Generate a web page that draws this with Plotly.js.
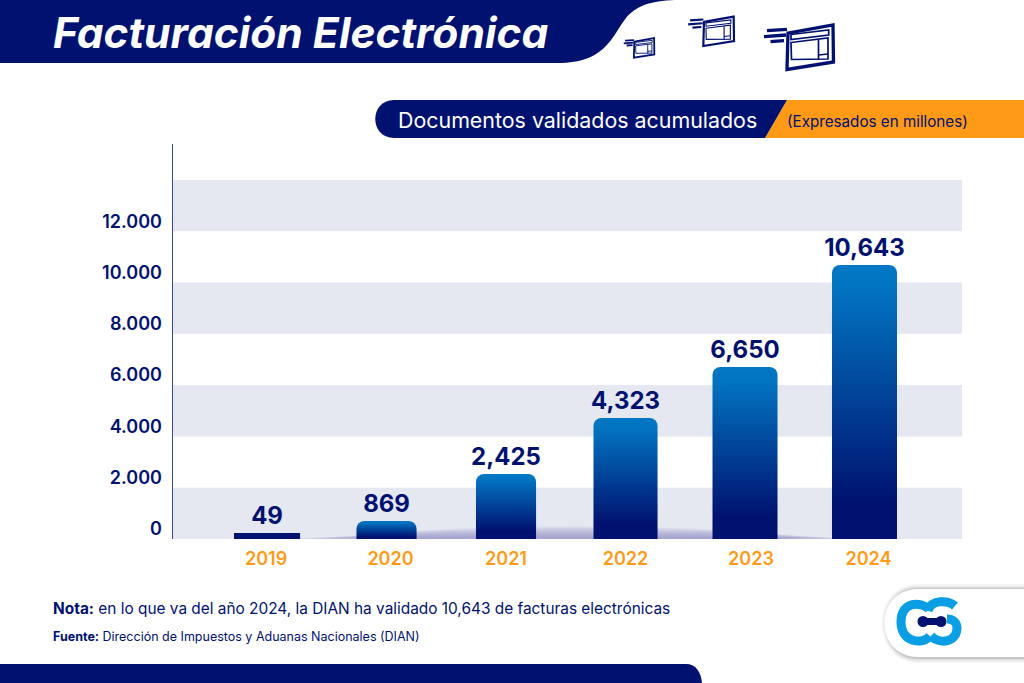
<!DOCTYPE html>
<html><head><meta charset="utf-8">
<script src="https://cdn.plot.ly/plotly-3.0.1.min.js"></script>
<style>html,body{margin:0;padding:0;background:#fff;overflow:hidden}#c{width:1024px;height:683px}</style>
</head><body><div id="c"></div>
<script>
var years = ['2019','2020','2021','2022','2023','2024'];
var valueLabels = ['49','869','2,425','4,323','6,650','10,643'];
var barLevels = [234,702,2535,4718,6707,10684];
var barWidths = [0.553,0.503,0.503,0.536,0.544,0.544];
var xTickSlots = [-0.008,1.033,2,3,4.05,5.033];
var yTickVals = [0,2000,4000,6000,8000,10000,12000];
var yTickText = ['0','2.000','4.000','6.000','8.000','10.000','12.000'];
var bandStarts = [0,4000,8000,12000];

var NAVY='#00116f', ORANGE='#ff9a17', FONT='Inter, "Noto Sans", sans-serif';
var W=1024,H=683;
function X(x){return x/W} function Y(y){return 1-y/H}
function P(d){return d.replace(/(-?[\d.]+),(-?[\d.]+)/g,function(m,a,b){return X(+a).toFixed(5)+','+Y(+b).toFixed(5)})}
function fillPath(d,c,op){return {type:'path',xref:'paper',yref:'paper',layer:'below',path:P(d),fillcolor:c,opacity:op==null?1:op,line:{width:0}}}
function strokePath(d,c,w){return {type:'path',xref:'paper',yref:'paper',layer:'below',path:P(d),fillcolor:'rgba(0,0,0,0)',line:{color:c,width:w}}}

var shapes=[];
bandStarts.forEach(function(b){shapes.push({type:'rect',xref:'x domain',yref:'y',x0:0,x1:1,y0:b,y1:b+2000,fillcolor:'#e5e7f1',line:{width:0},layer:'below'})});
// soft shadow on the baseline: nested, very faint ellipses
[[0.13,0.88,90],[0.15,0.86,130],[0.17,0.85,170],[0.18,0.84,210],[0.19,0.83,250],[0.20,0.82,290],[0.21,0.81,330],[0.22,0.80,370],[0.23,0.79,410],[0.24,0.78,450],[0.25,0.77,490]].forEach(function(s){
  shapes.push({type:'circle',xref:'x domain',yref:'y',x0:s[0],x1:s[1],y0:-s[2],y1:s[2],fillcolor:'#7f84bd',opacity:0.08,line:{width:0},layer:'below'});
});
shapes.push(fillPath('M0,0 L675,0 C650,1 636,6 626,18 C612,36 606,63 558,63 L0,63 Z',NAVY));
shapes.push(fillPath('M1024,100 L787,100 L765,138 L1024,138 Z',ORANGE));
shapes.push(fillPath('M787,100 L394,100 C369,100 369,138 394,138 L765,138 Z',NAVY));
shapes.push(fillPath('M0,664 L686,664 C696,664 701,672 702,683 L0,683 Z',NAVY));
[[5,0.05],[3.5,0.07],[2,0.1],[1,0.14]].forEach(function(s){
  var e=s[0];
  shapes.push(fillPath('M1024,'+(589-e)+' L918,'+(589-e)+' C'+(875-e)+','+(589-e)+' '+(875-e)+','+(657+e+1)+' 918,'+(657+e+1)+' L1024,'+(657+e+1)+' Z','#555',s[1]));
});
shapes.push(fillPath('M1024,589 L918,589 C873,589 873,657 918,657 L1024,657 Z','#ffffff'));
var LB='#0a9fe4';
shapes.push(strokePath('M929,609 C922,602 901,600 901,622 C901,643 923,645 930,636',LB,9));
shapes.push(strokePath('M955,606 C948,600 931,599 928,611',LB,9));
shapes.push(strokePath('M931,636 C940,645 957,642 957,628 C957,622 952,619 947,619',LB,9));
shapes.push(strokePath('M923,621.5 L941,621.5',NAVY,7));
[923,941].forEach(function(cx){shapes.push({type:'circle',xref:'paper',yref:'paper',layer:'below',x0:X(cx-5.5),x1:X(cx+5.5),y0:Y(627),y1:Y(616),fillcolor:NAVY,line:{width:0}})});
function icon(ox,oy,s){
  function T(d){return d.replace(/(-?[\d.]+),(-?[\d.]+)/g,function(m,a,b){return (ox+s*(+a-785)).toFixed(2)+','+(oy+s*(+b-24)).toFixed(2)})}
  var thick=Math.max(1.8,3.3*s), thin=Math.max(0.9,1.7*s);
  shapes.push(strokePath(T('M788,33 L833,25 L833.5,62 L787,69.5 Z'),NAVY,thick));
  shapes.push(strokePath(T('M767,30.7 L787,29.3'),NAVY,thick));
  shapes.push(strokePath(T('M764,36.7 L786,35'),NAVY,thick));
  shapes.push(strokePath(T('M770.5,41.7 L784,40.7'),NAVY,thick));
  shapes.push(strokePath(T('M791,34.5 L828.7,30 L828.7,35 L791,39.5 Z'),NAVY,thin));
  shapes.push(strokePath(T('M791,42.5 L828,38 L828,59 L791.5,59.5 Z'),NAVY,thin));
  shapes.push(strokePath(T('M818.5,39.5 L818.5,60 M818.5,55 L828,54'),NAVY,thin));
}
icon(785,24,1); icon(702,16,0.66); icon(633,37.7,0.44);

function ann(text,x,y,size,color){
  return {text:text,xref:'paper',yref:'paper',x:X(x),y:Y(y),xanchor:'left',yanchor:'middle',showarrow:false,align:'left',
    font:{family:FONT,size:size,color:color}};
}
var annotations=[
  ann('<b><i>Facturación Electrónica</i></b>',51,32,42.5,'#ffffff'),
  ann('Documentos validados acumulados',396,120,21.4,'#ffffff'),
  ann('(Expresados en millones)',785,121,15.2,NAVY),
  ann('<b>Nota:</b> en lo que va del año 2024, la DIAN ha validado 10,643 de facturas electrónicas',51,608,15.4,NAVY),
  ann('<b>Fuente:</b> Dirección de Impuestos y Aduanas Nacionales (DIAN)',51,636,12.5,NAVY)
];

function barTrace(a,b,r){
  return {type:'bar',x:years.slice(a,b),y:barLevels.slice(a,b),width:barWidths.slice(a,b),
    text:valueLabels.slice(a,b),textposition:'outside',cliponaxis:false,constraintext:'none',textangle:0,
    textfont:{family:FONT,size:24,color:NAVY,weight:700},
    marker:{color:NAVY,cornerradius:r,line:{width:0}},hoverinfo:'skip',showlegend:false};
}
var data=[barTrace(0,1,0),barTrace(1,6,8)];
var layout={
  width:W,height:H,margin:{l:0,r:0,t:0,b:0,pad:0},paper_bgcolor:'#fff',plot_bgcolor:'rgba(0,0,0,0)',
  barmode:'overlay',showlegend:false,shapes:shapes,annotations:annotations,
  xaxis:{domain:[X(173),X(962)],type:'category',categoryorder:'array',categoryarray:years,range:[-0.787,5.816],
    tickmode:'array',tickvals:xTickSlots,ticktext:years,
    showgrid:false,zeroline:false,showline:false,ticks:'',ticklabelstandoff:7,fixedrange:true,automargin:false,
    tickfont:{family:FONT,size:18,color:ORANGE,weight:600}},
  yaxis:{domain:[Y(539),Y(144)],range:[0,15402],tickmode:'array',tickvals:yTickVals,ticktext:yTickText,
    showgrid:false,zeroline:false,showline:true,linecolor:'#3a468f',linewidth:1.5,ticks:'',ticklabelstandoff:6,ticklabelshift:-10,
    fixedrange:true,automargin:false,
    tickfont:{family:FONT,size:18,color:NAVY,weight:600}}
};
Plotly.newPlot('c',data,layout,{displayModeBar:false,staticPlot:true}).then(function(gd){
  var svg=gd.querySelector('svg.main-svg'), ns='http://www.w3.org/2000/svg';
  var defs=svg.querySelector('defs');
  var g=document.createElementNS(ns,'linearGradient');
  g.setAttribute('id','barGrad');g.setAttribute('x1','0');g.setAttribute('y1','0');g.setAttribute('x2','0');g.setAttribute('y2','1');
  [['0','#0277c4'],['0.08','#0274c1'],['0.88','#00116f'],['1','#00116f']].forEach(function(s){
    var st=document.createElementNS(ns,'stop');st.setAttribute('offset',s[0]);st.setAttribute('stop-color',s[1]);g.appendChild(st);
  });
  defs.appendChild(g);
  var traces=gd.querySelectorAll('.barlayer .trace');
  traces[1].querySelectorAll('.point path').forEach(function(p){p.style.fill='url(#barGrad)'});
});
</script></body></html>
